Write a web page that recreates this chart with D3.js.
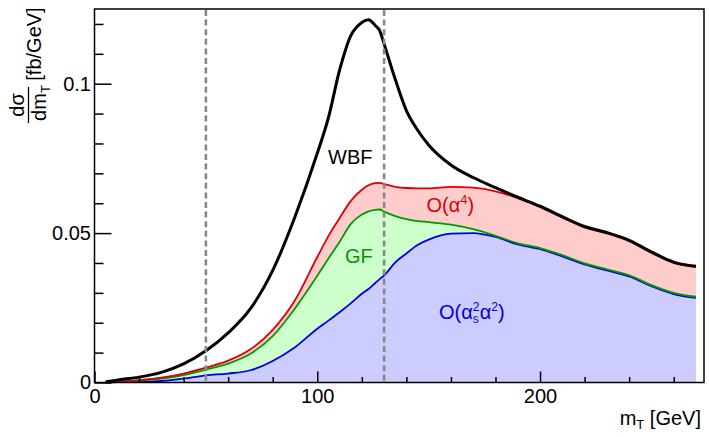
<!DOCTYPE html>
<html>
<head>
<meta charset="utf-8">
<script src="https://cdn.jsdelivr.net/npm/d3@7"></script>
<style>
  html, body { margin: 0; padding: 0; background: #fff; }
  svg { display: block; font-family: "Liberation Sans", Arial, sans-serif; }
</style>
</head>
<body>
<svg id="chart" width="709" height="437"></svg>
<script>
// ---- data ----
const mT = [5,10,20,30,40,50,60,70,80,90,100,105,110,115,120,123,126,128,130,135,140,145,150,160,170,180,190,200,210,220,230,240,250,260,270];
const wbf = [0.0002,0.0008,0.0018,0.0034,0.0062,0.0106,0.0166,0.0247,0.0375,0.0555,0.0767,0.0886,0.1045,0.116,0.1205,0.1214,0.1195,0.1178,0.1133,0.1015,0.091,0.0845,0.0795,0.0728,0.0686,0.0652,0.062,0.059,0.0555,0.0522,0.0502,0.0476,0.0437,0.0403,0.0389];
const alpha4Top = [0.0001,0.0003,0.0008,0.0016,0.003,0.005,0.0073,0.0111,0.0176,0.0275,0.042,0.049,0.055,0.0607,0.0645,0.066,0.0667,0.0668,0.0664,0.0655,0.0651,0.065,0.065,0.0655,0.0652,0.064,0.0617,0.0587,0.0552,0.0519,0.0499,0.0473,0.0434,0.04,0.0386];
const gfTop = [0.0001,0.0002,0.0006,0.0013,0.0025,0.0043,0.0063,0.0096,0.0155,0.0248,0.0357,0.0415,0.047,0.053,0.0562,0.0573,0.0578,0.0579,0.0572,0.0557,0.0547,0.054,0.0537,0.0528,0.0513,0.0491,0.0466,0.045,0.0426,0.0399,0.0379,0.0359,0.0326,0.03,0.0287];
const qcd = [0.0,0.0001,0.0002,0.0005,0.0013,0.0024,0.003,0.0041,0.0072,0.0118,0.018,0.0207,0.0235,0.0265,0.0297,0.0313,0.0333,0.0346,0.0358,0.0402,0.0432,0.046,0.0478,0.0498,0.05,0.0487,0.0462,0.0446,0.0422,0.0395,0.0375,0.0355,0.0322,0.0296,0.0283];
const xMajorTicks = [0, 100, 200];
const xMinorTicks = [20,40,60,80,120,140,160,180,220,240,260];
const yMajorTicks = [0, 0.05, 0.1];
const yTickLabels = ["0", "0.05", "0.1"];
const yMinorTicks = [0.01,0.02,0.03,0.04,0.06,0.07,0.08,0.09,0.11,0.12];
const cutLines = [50, 130];

// ---- layout ----
const svg = d3.select("#chart");
const L = 94.5, R = 704, T = 9, B = 382.5;
const x = d3.scaleLinear().domain([0, 273.6]).range([L, R]);
const y = d3.scaleLinear().domain([0, 0.125]).range([B, T]);
const pts = mT.map((m, i) => ({m, wbf: wbf[i], a4: alpha4Top[i], gf: gfTop[i], qcd: qcd[i]}));
const curve = d3.curveMonotoneX;

// fills
const area = (lo, hi) => d3.area().curve(curve).x(d => x(d.m)).y0(lo).y1(hi);
svg.append("path").datum(pts).attr("fill", "#ccccff")
  .attr("d", area(d => y(0), d => y(d.qcd)));
svg.append("path").datum(pts).attr("fill", "#ccffcc")
  .attr("d", area(d => y(d.qcd), d => y(d.gf)));
svg.append("path").datum(pts).attr("fill", "#ffcccc")
  .attr("d", area(d => y(d.gf), d => y(d.a4)));

// lines
const line = acc => d3.line().curve(curve).x(d => x(d.m)).y(d => y(acc(d)));
const lineDefs = [
  {acc: d => d.qcd, color: "#0000dd", w: 1.8},
  {acc: d => d.gf, color: "#009a00", w: 1.8},
  {acc: d => d.a4, color: "#dd0000", w: 1.8},
  {acc: d => d.wbf, color: "#000000", w: 3}
];
lineDefs.forEach(l => {
  svg.append("path").datum(pts).attr("fill", "none")
    .attr("stroke", l.color).attr("stroke-width", l.w)
    .attr("stroke-linejoin", "round").attr("d", line(l.acc));
});

// dashed cut lines
svg.selectAll(".cut").data(cutLines).enter().append("line")
  .attr("x1", d => x(d)).attr("x2", d => x(d))
  .attr("y1", T + 1).attr("y2", B)
  .attr("stroke", "#888").attr("stroke-width", 2.6)
  .attr("stroke-dasharray", "6,3.6");

// axes
const fs = 20;
svg.append("g").attr("transform", `translate(${L},0)`)
  .call(d3.axisLeft(y).tickValues(yMajorTicks).tickFormat((d, i) => yTickLabels[i])
    .tickSizeInner(-17).tickSizeOuter(0).tickPadding(3.5));
svg.append("g").attr("transform", `translate(${L},0)`)
  .call(d3.axisLeft(y).tickValues(yMinorTicks).tickFormat("")
    .tickSizeInner(-9).tickSizeOuter(0));
svg.append("g").attr("transform", `translate(0,${B})`)
  .call(d3.axisBottom(x).tickValues(xMajorTicks).tickFormat(d3.format("d"))
    .tickSizeInner(-11).tickSizeOuter(0).tickPadding(6.3));
svg.append("g").attr("transform", `translate(0,${B})`)
  .call(d3.axisBottom(x).tickValues(xMinorTicks).tickFormat("")
    .tickSizeInner(-5.5).tickSizeOuter(0));
svg.selectAll(".domain").remove();
svg.selectAll(".tick line").attr("stroke", "#000").attr("stroke-width", 1.5);
svg.selectAll(".tick text").attr("font-size", fs).attr("font-family", "Liberation Sans, Arial, sans-serif").attr("fill", "#000");

// frame
svg.append("rect").attr("x", L).attr("y", T).attr("width", R - L).attr("height", B - T)
  .attr("fill", "none").attr("stroke", "#000").attr("stroke-width", 1.5);

// x title
const xt = svg.append("text").attr("x", 701).attr("y", 425).attr("text-anchor", "end")
  .attr("font-size", fs);
xt.append("tspan").text("m");
xt.append("tspan").attr("font-size", 13).attr("dy", 4).text("T");
xt.append("tspan").attr("dy", -4).text(" [GeV]");

// y title (rotated)
const yt = svg.append("g").attr("transform", "rotate(-90)");
yt.append("text").attr("x", -44).attr("y", 41).attr("text-anchor", "middle")
  .attr("font-size", fs).text("[fb/GeV]");
yt.append("text").attr("x", -105).attr("y", 24).attr("text-anchor", "middle")
  .attr("font-size", fs).text("dσ");
yt.append("line").attr("x1", -123).attr("x2", -87).attr("y1", 28.5).attr("y2", 28.5)
  .attr("stroke", "#000").attr("stroke-width", 1.3);
const dm = yt.append("text").attr("x", -103).attr("y", 46).attr("text-anchor", "middle")
  .attr("font-size", fs);
dm.append("tspan").text("dm");
dm.append("tspan").attr("font-size", 13).attr("dy", 4).text("T");

// in-plot labels
svg.append("text").attr("x", 328).attr("y", 164).attr("font-size", fs).attr("fill", "#000").text("WBF");
svg.append("text").attr("x", 345).attr("y", 262.5).attr("font-size", fs).attr("fill", "#009a00").text("GF");
const a4 = svg.append("text").attr("x", 426.5).attr("y", 212).attr("font-size", fs).attr("fill", "#dd0000");
a4.append("tspan").text("O(α");
a4.append("tspan").attr("font-size", 13).attr("dy", -8).text("4");
a4.append("tspan").attr("dy", 8).text(")");
const qs = svg.append("text").attr("x", 439).attr("y", 318.5).attr("font-size", fs).attr("fill", "#0000dd");
qs.append("tspan").text("O(α");
qs.append("tspan").attr("font-size", 12).attr("dy", -8).text("2");
qs.append("tspan").attr("font-size", 12).attr("dx", -6.7).attr("dy", 12).text("s");
qs.append("tspan").attr("dx", 1).attr("dy", -4).text("α");
qs.append("tspan").attr("font-size", 12).attr("dy", -8).text("2");
qs.append("tspan").attr("dy", 8).text(")");
</script>
</body>
</html>
